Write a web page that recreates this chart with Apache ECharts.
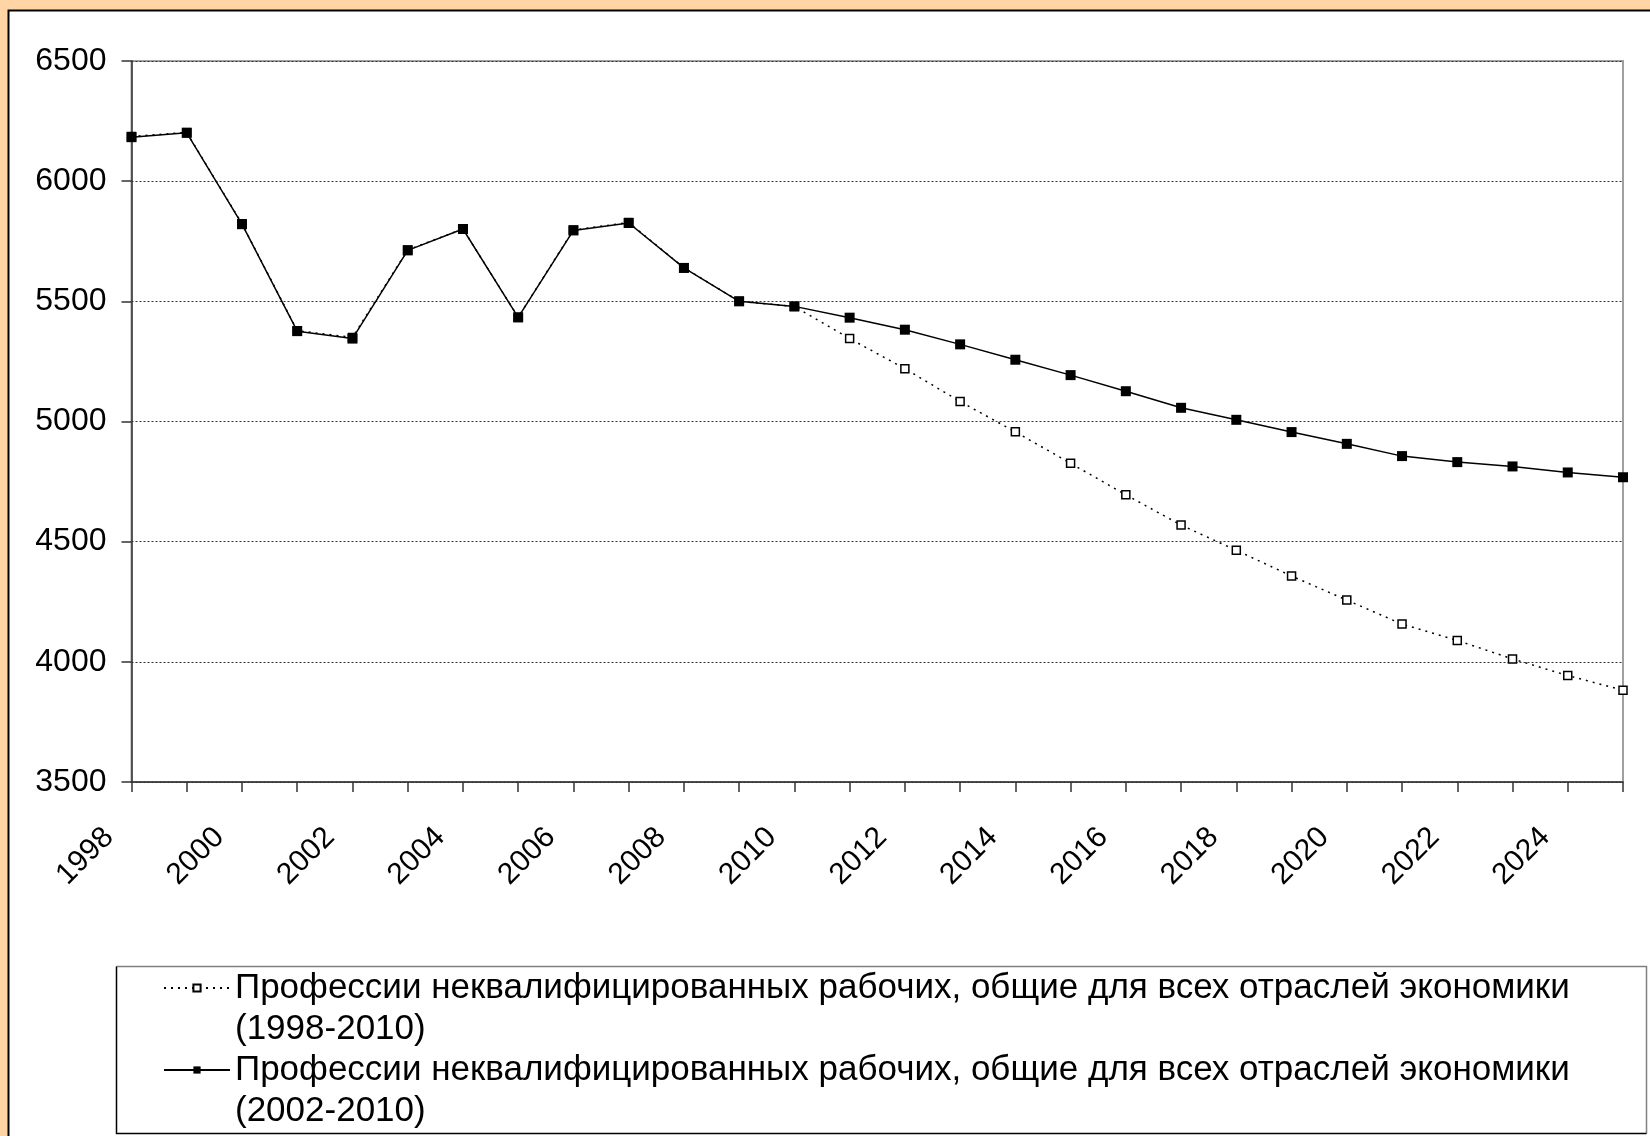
<!DOCTYPE html>
<html><head><meta charset="utf-8">
<script src="https://cdn.jsdelivr.net/npm/echarts@6/dist/echarts.min.js"></script>
<style>html,body{margin:0;padding:0;background:#FFD5A6;overflow:hidden;} #c{width:1650px;height:1136px;}</style>
</head><body><div id="c"></div>
<script>
const years = ['1998','1999','2000','2001','2002','2003','2004','2005','2006','2007','2008','2009','2010','2011','2012','2013','2014','2015','2016','2017','2018','2019','2020','2021','2022','2023','2024','2025'];
const nameA = 'Профессии неквалифицированных рабочих, общие для всех отраслей экономики\n(1998-2010)';
const nameB = 'Профессии неквалифицированных рабочих, общие для всех отраслей экономики\n(2002-2010)';
const valuesA = [6186, 6203, 5823, 5378, 5350, 5714, 5801, 5434, 5797, 5828, 5640, 5500, 5479, 5345, 5220, 5083, 4957, 4826, 4695, 4569, 4464, 4357, 4257, 4157, 4089, 4012, 3943, 3882];
const valuesB = [6183, 6201, 5821, 5376, 5345, 5712, 5801, 5433, 5795, 5826, 5639, 5500, 5479, 5432, 5382, 5321, 5257, 5193, 5126, 5057, 5007, 4956, 4907, 4856, 4831, 4813, 4788, 4768];
const yMin = 3500, yMax = 6500, yStep = 500;

const FONT = 'Liberation Sans, Arial, sans-serif';
const LH = 41;
const chart = echarts.init(document.getElementById('c'), null, {renderer: 'canvas'});
chart.setOption({
  animation: false,
  backgroundColor: '#FFD5A6',
  textStyle: {fontFamily: FONT, color: '#000'},
  graphic: [
    {type: 'rect', z: -10, shape: {x: 8.5, y: 10.5, width: 1700, height: 1200},
     style: {fill: '#fff', stroke: '#000', lineWidth: 2}},
    {type: 'polyline', z: 5, shape: {points: [[116.5, 966.5], [1646.5, 966.5], [1646.5, 1133.5]]},
     style: {fill: null, stroke: '#808080', lineWidth: 1.5}},
    {type: 'polyline', z: 5, shape: {points: [[116.5, 966.5], [116.5, 1133.5], [1646.5, 1133.5]]},
     style: {fill: null, stroke: '#000', lineWidth: 1.5}}
  ],
  grid: {left: 131.5, right: 27, top: 61, bottom: 354, show: true, borderColor: '#A0A0A0', borderWidth: 2, backgroundColor: 'transparent'},
  legend: {
    orient: 'vertical', left: 163, top: 988 - 1.5 * LH, height: 400, padding: 0, itemGap: -LH,
    itemWidth: 66, itemHeight: 9,
    data: [nameA, nameB],
    formatter: '\n{name}',
    textStyle: {fontFamily: FONT, fontSize: 35, lineHeight: LH, color: '#000'}
  },
  xAxis: {
    type: 'category', data: years, boundaryGap: false,
    axisLine: {lineStyle: {color: '#333', width: 1.5}},
    axisTick: {show: true, length: 10, interval: 0, lineStyle: {color: '#333', width: 1.5}},
    axisLabel: {interval: 1, rotate: 45, fontSize: 30, color: '#000', fontFamily: FONT, margin: 28, padding: [0, 32, 0, 0]},
    splitLine: {show: false}
  },
  yAxis: {
    type: 'value', min: yMin, max: yMax, interval: yStep,
    axisLine: {show: true, lineStyle: {color: '#333', width: 1.5}},
    axisTick: {show: true, length: 10, lineStyle: {color: '#333', width: 1.5}},
    axisLabel: {fontSize: 32, color: '#000', fontFamily: FONT, margin: 25, formatter: v => String(v)},
    splitLine: {show: true, lineStyle: {color: '#333', width: 1, type: [2, 2]}}
  },
  series: [
    {name: nameA, type: 'line', data: valuesA, z: 3,
     symbol: 'rect', symbolSize: 8, showAllSymbol: true,
     lineStyle: {color: '#000', width: 1.5, type: [2, 5]},
     itemStyle: {color: '#fff', borderColor: '#000', borderWidth: 1.5}},
    {name: nameB, type: 'line', data: valuesB, z: 4,
     symbol: 'rect', symbolSize: 10, showAllSymbol: true,
     lineStyle: {color: '#000', width: 1.5},
     itemStyle: {color: '#000', borderColor: '#000', borderWidth: 0}}
  ]
});
</script></body></html>
